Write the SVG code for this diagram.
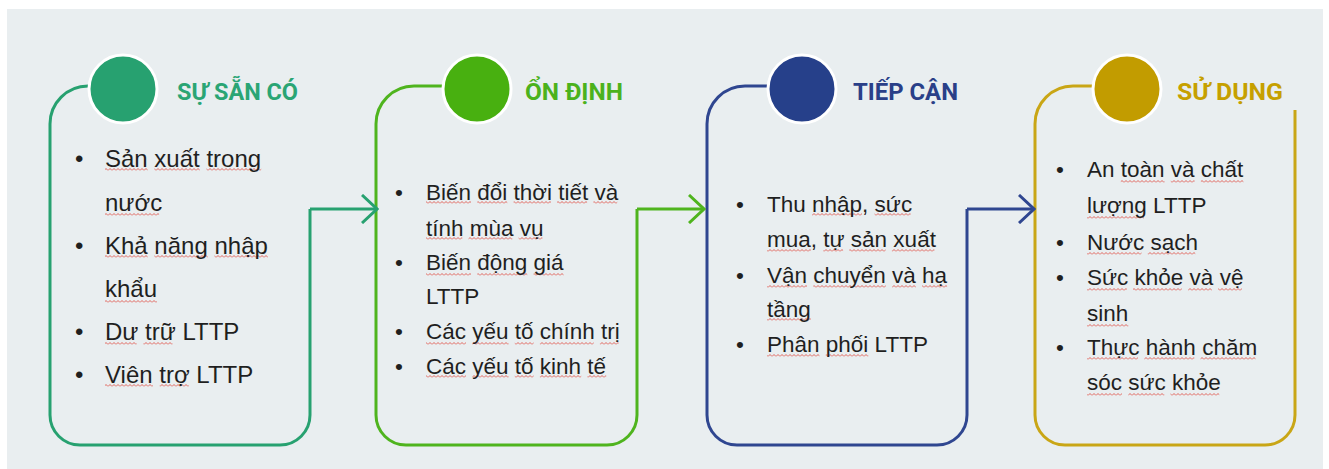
<svg xmlns="http://www.w3.org/2000/svg" width="1329" height="469" viewBox="0 0 1329 469">
  <style>
    .panel { fill: #e9eef0; }
    .outline { fill: none; stroke-width: 3; stroke-linejoin: miter; }
    .dot { stroke: #ffffff; stroke-width: 3; }
    .title { font-family: Roboto, "Liberation Sans", sans-serif; font-weight: 700; font-size: 24px; }
    .body { font-family: "Liberation Sans", Arial, sans-serif; font-size: 22.5px; fill: #1f1f1f; }
    .big { font-size: 24px; }
    .wv { fill: url(#wave); }
    .c1 { stroke: #27a170; } .f1 { fill: #27a170; }
    .c2 { stroke: #4fb41e; } .f2 { fill: #48b010; }
    .c3 { stroke: #2f4690; } .f3 { fill: #26408a; }
    .c4 { stroke: #c9a616; } .f4 { fill: #c29c00; }
    .t1 { fill: #2aa574; } .t2 { fill: #4cb21c; } .t3 { fill: #2a3f88; } .t4 { fill: #c6a000; }
  </style>
  <defs>
    <!-- spell-check style wavy underline tile -->
    <pattern id="wave" patternUnits="userSpaceOnUse" width="4" height="3">
      <path d="M0 2.5 L2 0.5 L4 2.5" fill="none" stroke="#e0544c" stroke-width="0.9"/>
    </pattern>
    <marker id="chev1" markerWidth="18" markerHeight="30" refX="16" refY="15" orient="auto" markerUnits="userSpaceOnUse">
      <path d="M1,1 L16,15 L1,29" fill="none" stroke="#27a170" stroke-width="3"/>
    </marker>
    <marker id="chev2" markerWidth="18" markerHeight="30" refX="16" refY="15" orient="auto" markerUnits="userSpaceOnUse">
      <path d="M1,1 L16,15 L1,29" fill="none" stroke="#4fb41e" stroke-width="3"/>
    </marker>
    <marker id="chev3" markerWidth="18" markerHeight="30" refX="16" refY="15" orient="auto" markerUnits="userSpaceOnUse">
      <path d="M1,1 L16,15 L1,29" fill="none" stroke="#2f4690" stroke-width="3"/>
    </marker>
  </defs>

  <rect class="panel" x="7" y="9" width="1316" height="460"/>

  <!-- Stage 1 -->
  <g id="su-san-co">
    <path class="outline c1" d="M90 86 H88 A38 38 0 0 0 50 124 V415 A30 30 0 0 0 80 445 H280 A30 30 0 0 0 310 415 V209"/>
    <circle class="dot f1" cx="123" cy="89" r="34"/>
    <text class="title t1" x="177" y="100" textLength="121" lengthAdjust="spacingAndGlyphs">SỰ SẴN CÓ</text>
    <g class="wv">
      <rect x="105" y="168" width="42.7" height="3"/><rect x="154.4" y="168" width="45.4" height="3"/><rect x="206.5" y="168" width="54.7" height="3"/>
      <rect x="105" y="213" width="54.1" height="3"/>
      <rect x="105" y="255" width="42.7" height="3"/><rect x="154.4" y="255" width="53.4" height="3"/><rect x="214.5" y="255" width="53.4" height="3"/>
      <rect x="105" y="300" width="52" height="3"/>
      <rect x="105" y="342" width="31.7" height="3"/><rect x="143.4" y="342" width="29.1" height="3"/>
      <rect x="105" y="384" width="48" height="3"/><rect x="159.7" y="384" width="29.1" height="3"/>
    </g>
    <g class="body big">
      <text x="75" y="167">•</text>
      <text x="105" y="167">Sản xuất trong</text>
      <text x="105" y="211">nước</text>
      <text x="75" y="254">•</text>
      <text x="105" y="254">Khả năng nhập</text>
      <text x="105" y="297">khẩu</text>
      <text x="75" y="340">•</text>
      <text x="105" y="340">Dư trữ LTTP</text>
      <text x="75" y="383">•</text>
      <text x="105" y="383">Viên trợ LTTP</text>
    </g>
  </g>

  <!-- Stage 2 -->
  <g id="on-dinh">
    <path class="outline c2" d="M444 86 H414 A38 38 0 0 0 376 124 V415 A30 30 0 0 0 406 445 H607 A30 30 0 0 0 637 415 V209"/>
    <circle class="dot f2" cx="477" cy="89" r="34"/>
    <text class="title t2" x="525" y="100" textLength="98" lengthAdjust="spacingAndGlyphs">ỔN ĐỊNH</text>
    <g class="wv">
      <rect x="426" y="201" width="45" height="3"/><rect x="477.3" y="201" width="30" height="3"/><rect x="513.6" y="201" width="37.3" height="3"/><rect x="557.1" y="201" width="30" height="3"/><rect x="593.4" y="201" width="23.8" height="3"/>
      <rect x="426" y="237" width="36.3" height="3"/><rect x="468.5" y="237" width="43.8" height="3"/><rect x="518.6" y="237" width="23.8" height="3"/>
      <rect x="426" y="273" width="45" height="3"/><rect x="477.3" y="273" width="50" height="3"/><rect x="533.6" y="273" width="30" height="3"/>
      <rect x="426" y="342" width="40" height="3"/><rect x="472.3" y="342" width="36.3" height="3"/><rect x="514.8" y="342" width="18.8" height="3"/><rect x="539.9" y="342" width="53.8" height="3"/><rect x="599.9" y="342" width="18.7" height="3"/>
      <rect x="426" y="375" width="40" height="3"/><rect x="472.3" y="375" width="36.3" height="3"/><rect x="514.8" y="375" width="18.8" height="3"/><rect x="539.9" y="375" width="41.3" height="3"/><rect x="587.4" y="375" width="18.8" height="3"/>
    </g>
    <g class="body">
      <text x="395" y="200">•</text>
      <text x="426" y="200">Biến đổi thời tiết và</text>
      <text x="426" y="236">tính mùa vụ</text>
      <text x="395" y="270">•</text>
      <text x="426" y="270">Biến động giá</text>
      <text x="426" y="304">LTTP</text>
      <text x="395" y="339">•</text>
      <text x="426" y="339">Các yếu tố chính trị</text>
      <text x="395" y="374">•</text>
      <text x="426" y="374">Các yếu tố kinh tế</text>
    </g>
  </g>

  <!-- Stage 3 -->
  <g id="tiep-can">
    <path class="outline c3" d="M769 86 H745 A38 38 0 0 0 707 124 V415 A30 30 0 0 0 737 445 H937 A30 30 0 0 0 967 415 V209"/>
    <circle class="dot f3" cx="802" cy="89" r="34"/>
    <text class="title t3" x="853" y="100" textLength="105" lengthAdjust="spacingAndGlyphs">TIẾP CẬN</text>
    <g class="wv">
      <rect x="812" y="213" width="50" height="3"/><rect x="874.6" y="213" width="36" height="3"/>
      <rect x="767" y="249" width="43.8" height="3"/><rect x="823.3" y="249" width="19.8" height="3"/><rect x="849.3" y="249" width="36.3" height="3"/><rect x="891.9" y="249" width="42.5" height="3"/>
      <rect x="767" y="285" width="40" height="3"/><rect x="813.3" y="285" width="72.5" height="3"/><rect x="892.1" y="285" width="23.8" height="3"/><rect x="922.1" y="285" width="25" height="3"/>
      <rect x="767" y="318" width="43.8" height="3"/>
      <rect x="767" y="354" width="52.5" height="3"/><rect x="825.8" y="354" width="42.5" height="3"/>
    </g>
    <g class="body">
      <text x="736" y="212">•</text>
      <text x="767" y="212">Thu nhập, sức</text>
      <text x="767" y="247">mua, tự sản xuất</text>
      <text x="736" y="283">•</text>
      <text x="767" y="283">Vận chuyển và hạ</text>
      <text x="767" y="317">tầng</text>
      <text x="736" y="352">•</text>
      <text x="767" y="352">Phân phối LTTP</text>
    </g>
  </g>

  <!-- Stage 4 -->
  <g id="su-dung">
    <path class="outline c4" d="M1094 86 H1073 A38 38 0 0 0 1035 124 V415 A30 30 0 0 0 1065 445 H1265 A30 30 0 0 0 1295 415 V110"/>
    <circle class="dot f4" cx="1127" cy="89" r="34"/>
    <text class="title t4" x="1177" y="100" textLength="106" lengthAdjust="spacingAndGlyphs">SỬ DỤNG</text>
    <g class="wv">
      <rect x="1120.8" y="180" width="43.8" height="3"/><rect x="1170.8" y="180" width="23.8" height="3"/><rect x="1200.9" y="180" width="42.5" height="3"/>
      <rect x="1087" y="216" width="57" height="3"/>
      <rect x="1087" y="252" width="54.5" height="3"/><rect x="1147.8" y="252" width="47.5" height="3"/>
      <rect x="1087" y="288" width="39.8" height="3"/><rect x="1133" y="288" width="48.8" height="3"/><rect x="1188.1" y="288" width="23.8" height="3"/><rect x="1218.1" y="288" width="23.8" height="3"/>
      <rect x="1087" y="324" width="41.3" height="3"/>
      <rect x="1087" y="357" width="51" height="3"/><rect x="1144.3" y="357" width="50" height="3"/><rect x="1200.5" y="357" width="55" height="3"/>
      <rect x="1087" y="393" width="35" height="3"/><rect x="1128.3" y="393" width="36" height="3"/><rect x="1170.5" y="393" width="48.8" height="3"/>
    </g>
    <g class="body">
      <text x="1056" y="177">•</text>
      <text x="1087" y="177">An toàn và chất</text>
      <text x="1087" y="213">lượng LTTP</text>
      <text x="1056" y="250">•</text>
      <text x="1087" y="250">Nước sạch</text>
      <text x="1056" y="285">•</text>
      <text x="1087" y="285">Sức khỏe và vệ</text>
      <text x="1087" y="321">sinh</text>
      <text x="1056" y="355">•</text>
      <text x="1087" y="355">Thực hành chăm</text>
      <text x="1087" y="390">sóc sức khỏe</text>
    </g>
  </g>

  <!-- Flow connectors between stages -->
  <g id="connectors">
    <path class="outline c1" d="M310 209 H377" marker-end="url(#chev1)"/>
    <path class="outline c2" d="M637 209 H704" marker-end="url(#chev2)"/>
    <path class="outline c3" d="M967 209 H1034" marker-end="url(#chev3)"/>
  </g>
</svg>
